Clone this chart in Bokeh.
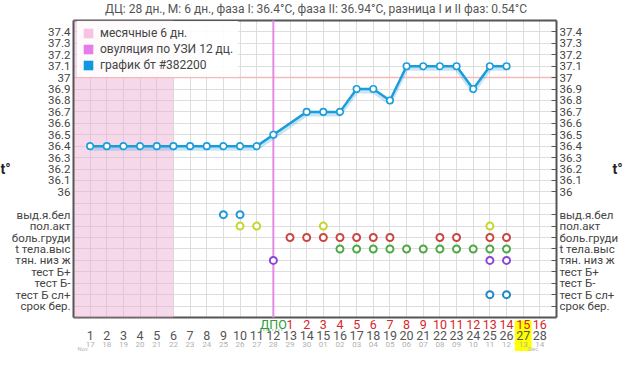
from bokeh.plotting import figure
from bokeh.models import (ColumnDataSource, FixedTicker, LinearAxis, Range1d,
                          LabelSet, Label, BoxAnnotation, Legend, LegendItem, Arrow)
from bokeh.core.properties import value
from bokeh.transform import dodge
from bokeh.embed import file_html
from bokeh.resources import INLINE

FONT = "Roboto"
NAN = float("nan")

# ---------------- data ----------------
title_text = "ДЦ: 28 дн., М: 6 дн., фаза I: 36.4°C, фаза II: 36.94°C, разница I и II фаз: 0.54°C"

cycle_days = [1, 2, 3, 4, 5, 6, 7, 8, 9, 10, 11, 12, 13, 14,
              15, 16, 17, 18, 19, 20, 21, 22, 23, 24, 25, 26, 27, 28]
day_labels = ["1", "2", "3", "4", "5", "6", "7", "8", "9", "10", "11", "12", "13", "14",
              "15", "16", "17", "18", "19", "20", "21", "22", "23", "24", "25", "26", "27", "28"]
dates = ["17", "18", "19", "20", "21", "22", "23", "24", "25", "26", "27", "28", "29", "30",
         "01", "02", "03", "04", "05", "06", "07", "08", "09", "10", "11", "12", "13", "14"]
months = ["Nov", "Dec"]
month_days = [0.55, 27.6]

temp_days = [1, 2, 3, 4, 5, 6, 7, 8, 9, 10, 11, 12, 14, 15, 16, 17, 18, 19, 20, 21, 22, 23, 24, 25, 26]
temps = [36.4, 36.4, 36.4, 36.4, 36.4, 36.4, 36.4, 36.4, 36.4, 36.4, 36.4, 36.5,
         36.7, 36.7, 36.7, 36.9, 36.9, 36.8, 37.1, 37.1, 37.1, 37.1, 36.9, 37.1, 37.1]

temp_ticks = [37.4, 37.3, 37.2, 37.1, 37.0, 36.9, 36.8, 36.7, 36.6, 36.5, 36.4, 36.3, 36.2, 36.1, 36.0]
temp_tick_labels = ["37.4", "37.3", "37.2", "37.1", "37", "36.9", "36.8", "36.7", "36.6",
                    "36.5", "36.4", "36.3", "36.2", "36.1", "36"]

symptoms = ["выд.я.бел", "пол.акт", "боль.груди", "t тела.выс", "тян. низ ж",
            "тест Б+", "тест Б-", "тест Б сл+", "срок бер."]
symptom_rows = [35.8, 35.7, 35.6, 35.5, 35.4, 35.3, 35.2, 35.1, 35.0]

sym_discharge = [9, 10]
sym_sex = [10, 11, 15, 25]
sym_breast = [13, 14, 15, 16, 17, 18, 19, 22, 23, 25, 26]
sym_hightemp = [16, 17, 18, 19, 20, 21, 22, 23, 24, 25, 26]
sym_pain = [12, 25, 26]
sym_testfaint = [25, 26]

dpo_days = [12, 13, 14, 15, 16, 17, 18, 19, 20, 21, 22, 23, 24, 25, 26, 27, 28]
dpo_labels = ["ДПО", "1", "2", "3", "4", "5", "6", "7", "8", "9", "10",
              "11", "12", "13", "14", "15", "16"]

mens_len = 6
ovulation_day = 12
high_line = 37.0
today_day = 27
axis_mark = "t°"

legend_labels = ["месячные 6 дн.", "овуляция по УЗИ 12 дц.", "график бт #382200"]

# ---------------- styles / geometry ----------------
BLUE = "#1c9ddb"
PINK_BAND = "#e8a8d0"
OV_COLOR = "#e48ae6"
AX = "#555555"
TXT = "#444444"
GRID = "#dedede"

W, H = 624, 351
LEFT_PX, RIGHT_PX = 73, 556     # chart box left/right (px)
TOP_PX, BOT_PX = 20, 317        # chart box top/bottom (px)
Y0, Y1 = 34.9, 37.5
X0, X1 = 0, 29
PXU = (BOT_PX - TOP_PX) / (Y1 - Y0)
PXX = (RIGHT_PX - LEFT_PX) / (X1 - X0)

def xpx(px):
    return X0 + (px - LEFT_PX) / PXX

def ybelow(px):
    return Y0 - px / PXU

p = figure(width=W, height=H,
           x_range=Range1d(xpx(0), xpx(W)),
           y_range=Range1d(Y0 - (H - BOT_PX) / PXU, Y1 + TOP_PX / PXU),
           output_backend="svg", toolbar_location=None, title=None,
           x_axis_location=None, y_axis_location=None,
           min_border_left=0, min_border_right=0, min_border_top=0, min_border_bottom=0)
p.background_fill_color = "white"
p.border_fill_color = "white"
p.outline_line_color = None

# grid limited to the chart box
grid_y = [round(34.9 + 0.1 * i, 1) for i in range(27)]
grid_x = list(range(X0, X1 + 1))
try:
    p.xgrid.ticker = FixedTicker(ticks=grid_x)
    p.ygrid.ticker = FixedTicker(ticks=grid_y)
    p.xgrid.cross_bounds = (Y0, Y1)
    p.ygrid.cross_bounds = (X0, X1)
    p.xgrid.bounds = (X0, X1)
    p.ygrid.bounds = (Y0, Y1)
    p.xgrid.grid_line_color = GRID
    p.ygrid.grid_line_color = GRID
except Exception:
    p.xgrid.visible = False
    p.ygrid.visible = False
    p.segment(x0=grid_x, y0=[Y0] * len(grid_x), x1=grid_x, y1=[Y1] * len(grid_x), line_color=GRID)
    p.segment(x0=[X0] * len(grid_y), y0=grid_y, x1=[X1] * len(grid_y), y1=grid_y, line_color=GRID)

# axes drawn at the box edges
ticks = temp_ticks + symptom_rows
overrides = {t: l for t, l in zip(temp_ticks, temp_tick_labels)}
overrides.update({t: l for t, l in zip(symptom_rows, symptoms)})

def make_axis(loc, tick_in):
    ax = LinearAxis(fixed_location=loc)
    ax.ticker = FixedTicker(ticks=ticks)
    ax.bounds = (Y0, Y1)
    ax.major_label_overrides = overrides
    ax.major_label_text_font = FONT
    ax.major_label_text_font_size = "11.5px"
    ax.major_label_text_color = TXT
    ax.axis_line_color = AX
    ax.axis_line_width = 2
    ax.major_tick_line_color = AX
    ax.major_tick_in = tick_in
    ax.major_tick_out = 0
    ax.minor_tick_line_color = None
    ax.major_label_standoff = 3
    return ax

p.add_layout(make_axis(X0, 0), "left")
p.add_layout(make_axis(X1, 5), "right")

# top / bottom border of the chart box
p.segment(x0=[X0, X0], y0=[Y0, Y1], x1=[X1, X1], y1=[Y0, Y1], line_color=AX, line_width=2)

# menstruation band
p.quad(left=[cycle_days[0] - 1], right=[mens_len], bottom=[Y0], top=[Y1],
       fill_color=PINK_BAND, fill_alpha=0.45, line_color=None)

# 37 line and ovulation line
p.segment(x0=[X0], y0=[high_line], x1=[X1], y1=[high_line], line_color="#f6b9b9", line_width=1.5)
p.segment(x0=[ovulation_day], y0=[Y0], x1=[ovulation_day], y1=[Y1], line_color=OV_COLOR, line_width=2)

# temperature
tsrc = ColumnDataSource(dict(day=temp_days, temp=temps))
p.line(x="day", y=dodge("temp", -0.022), source=tsrc, line_color=BLUE, line_alpha=0.25, line_width=4)
p.line(x="day", y="temp", source=tsrc, line_color=BLUE, line_width=2.5)
p.scatter(x="day", y="temp", source=tsrc, size=6.5, fill_color="white", line_color=BLUE, line_width=1.6)

# symptoms
sym_sets = [(sym_discharge, 0, "#1e9bd7"), (sym_sex, 1, "#c6d52d"), (sym_breast, 2, "#c9473f"),
            (sym_hightemp, 3, "#4fa847"), (sym_pain, 4, "#8b45d6"), (sym_testfaint, 7, "#1e87c6")]
for ds, row, col in sym_sets:
    p.scatter(x=ds, y=[symptom_rows[row]] * len(ds), size=7, fill_color="white",
              line_color=col, line_width=2)

# legend with square swatches
leg_colors = ["#f6c3e3", "#e57ce7", "#0f98e0"]
items = []
for lab, col in zip(legend_labels, leg_colors):
    r = p.quad(left=[NAN], right=[NAN], top=[NAN], bottom=[NAN], fill_color=col, line_color=None)
    items.append(LegendItem(label=lab, renderers=[r]))
legend = Legend(items=items, location=(LEFT_PX + 4, H - 21 - 56), margin=0, padding=5, spacing=2,
                glyph_width=12, glyph_height=12, label_standoff=6,
                label_text_font=FONT, label_text_font_size="12px", label_text_color=TXT,
                border_line_alpha=0, background_fill_color="white", background_fill_alpha=0.9,
                label_height=12)
p.add_layout(legend)

# ---------------- bottom labels ----------------
p.add_layout(BoxAnnotation(left=today_day - 0.5, right=today_day + 0.5,
                           top=ybelow(3), bottom=ybelow(40),
                           fill_color="#ffff00", fill_alpha=1, line_alpha=0))

dpo_colors = ["#2e9a3a"] + ["#d7262a"] * (len(dpo_labels) - 1)
src_dpo = ColumnDataSource(dict(x=dpo_days, t=dpo_labels, c=dpo_colors, y=[ybelow(7)] * len(dpo_days)))
p.add_layout(LabelSet(x="x", y="y", text="t", source=src_dpo, text_color="c",
                      text_align="center", text_baseline="middle",
                      text_font=value(FONT), text_font_size="12.5px"))

src_days = ColumnDataSource(dict(x=cycle_days, t=day_labels, y=[ybelow(18)] * len(cycle_days)))
p.add_layout(LabelSet(x="x", y="y", text="t", source=src_days, text_color="#555555",
                      text_align="center", text_baseline="middle",
                      text_font=value(FONT), text_font_size="12.5px"))

src_dates = ColumnDataSource(dict(x=cycle_days, t=dates, y=[ybelow(26.5)] * len(cycle_days)))
p.add_layout(LabelSet(x="x", y="y", text="t", source=src_dates, text_color="#b0b0b0",
                      text_align="center", text_baseline="middle",
                      text_font=value(FONT), text_font_size="8px"))

src_months = ColumnDataSource(dict(x=month_days, t=months, y=[ybelow(31)] * len(months)))
p.add_layout(LabelSet(x="x", y="y", text="t", source=src_months, text_color="#b8b8b8",
                      text_align="center", text_baseline="middle",
                      text_font=value(FONT), text_font_size="6px"))

# dotted underline of ДПО
p.add_layout(Arrow(end=None, x_start=ovulation_day - 0.6, x_end=ovulation_day + 0.6,
                   y_start=ybelow(12.5), y_end=ybelow(12.5),
                   line_color="#2e9a3a", line_width=1, line_dash="1 2"))

# title
p.add_layout(Label(x=xpx(315.5), y=Y1 + (TOP_PX - 8) / PXU, text=title_text, text_align="center",
                   text_baseline="middle", text_font=FONT, text_font_size="12px",
                   text_color="#555555"))

# t° marks at both sides
for px in (0, 612):
    p.add_layout(Label(x=xpx(px), y=36.2, text=axis_mark, text_align="left", text_baseline="middle",
                       text_font=FONT, text_font_size="14px", text_font_style="bold",
                       text_color="#222222"))

open("out.html", "w").write(file_html(p, INLINE))
